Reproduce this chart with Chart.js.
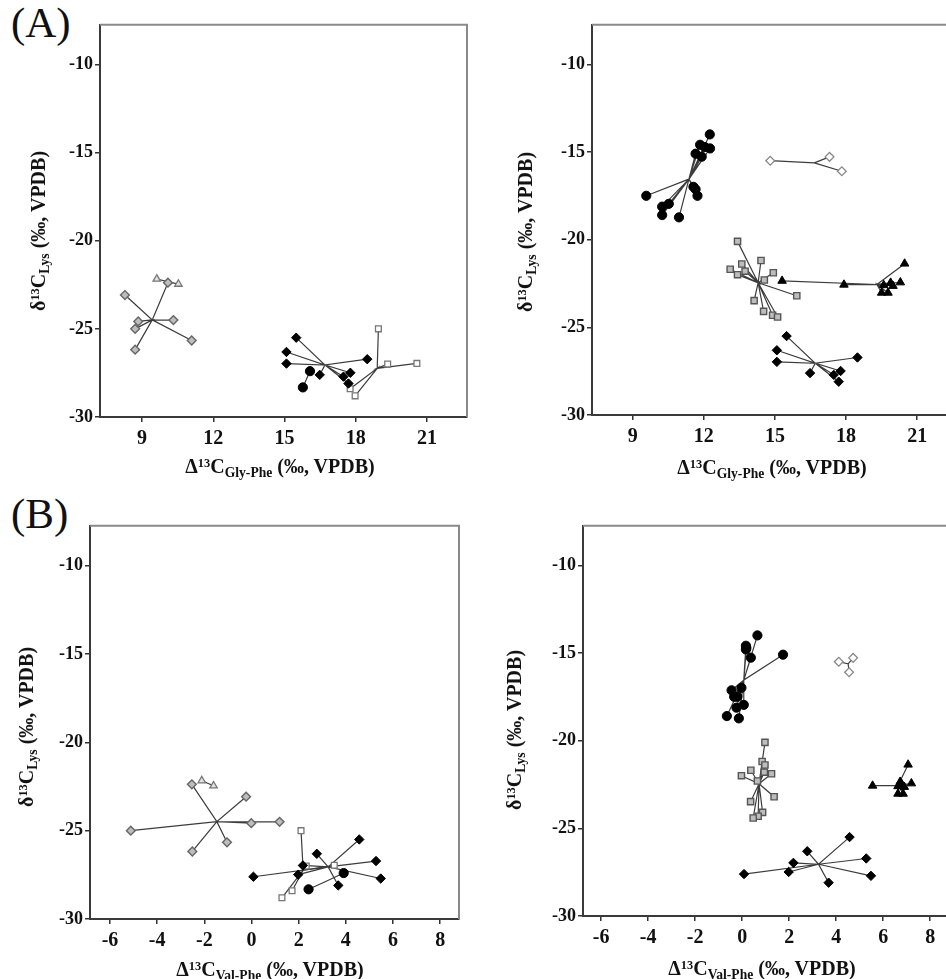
<!DOCTYPE html>
<html><head><meta charset="utf-8">
<script src="https://cdn.jsdelivr.net/npm/chart.js@4.4.0/dist/chart.umd.min.js"></script>
<style>
html,body{margin:0;padding:0;background:#fff;width:946px;height:979px;overflow:hidden;position:relative;}
canvas.cv{position:absolute;}
.lbl{position:absolute;font-family:"Liberation Serif","Times New Roman",serif;color:#111;white-space:nowrap;}
.ttl{font-weight:bold;font-size:20px;line-height:1;transform:translate(-50%,-50%);}
.ttl.rot{transform:translate(-50%,-50%) rotate(-90deg);}
.ttl sup{font-size:0.62em;vertical-align:0.5em;line-height:0;}
.ttl sub{font-size:0.68em;vertical-align:-0.3em;line-height:0;}
.panel{font-size:43px;line-height:1;}
</style></head><body>
<div class="lbl panel" style="left:11px;top:1px;">(A)</div>
<div class="lbl panel" style="left:11px;top:492px;">(B)</div>

<canvas id="cA1" class="cv"></canvas>
<canvas id="cA2" class="cv"></canvas>
<canvas id="cB1" class="cv"></canvas>
<canvas id="cB2" class="cv"></canvas>

<div class="lbl ttl" style="left:280px;top:466px;">Δ<sup>13</sup>C<sub>Gly-Phe</sub> (‰, VPDB)</div>
<div class="lbl ttl rot" style="left:38px;top:231px;">δ<sup>13</sup>C<sub>Lys</sub> (‰, VPDB)</div>
<div class="lbl ttl" style="left:772px;top:467px;">Δ<sup>13</sup>C<sub>Gly-Phe</sub> (‰, VPDB)</div>
<div class="lbl ttl rot" style="left:525px;top:232px;">δ<sup>13</sup>C<sub>Lys</sub> (‰, VPDB)</div>
<div class="lbl ttl" style="left:270px;top:969px;">Δ<sup>13</sup>C<sub>Val-Phe</sub> (‰, VPDB)</div>
<div class="lbl ttl rot" style="left:26px;top:727px;">δ<sup>13</sup>C<sub>Lys</sub> (‰, VPDB)</div>
<div class="lbl ttl" style="left:762px;top:968px;">Δ<sup>13</sup>C<sub>Val-Phe</sub> (‰, VPDB)</div>
<div class="lbl ttl rot" style="left:514px;top:730px;">δ<sup>13</sup>C<sub>Lys</sub> (‰, VPDB)</div>

<script>
// ---------- tick labels ----------
const lysTicks = [-30, -25, -20, -15, -10];
const glyTicks = [9, 12, 15, 18, 21];
const valTicks = [-6, -4, -2, 0, 2, 4, 6, 8];

// ---------- left-hand panels ----------
// gray diamonds
const grayDiamondLys = [-22.38, -23.08, -24.50, -24.58, -25.00, -25.66, -26.18];
const grayDiamondGly = [10.09, 8.28, 10.32, 8.84, 8.71, 11.09, 8.71];
const grayDiamondVal = [-2.53, -0.23, 1.19, -0.01, -5.12, -1.04, -2.51];
const grayDiamondCentre = [-24.49, 9.43, -1.47]; // Lys, Gly-Phe, Val-Phe

// gray open triangles
const grayTriangleLys = [-22.17, -22.46];
const grayTriangleGly = [9.62, 10.53];
const grayTriangleVal = [-2.11, -1.61];
const grayTriangleCentre = [-22.32, 10.08, -1.86];

// black circles (left)
const blackCircleLLys = [-27.40, -28.32];
const blackCircleLGly = [16.07, 15.77];
const blackCircleLVal = [3.91, 2.42];
const blackCircleLCentre = [-27.86, 15.92, 3.17];

// open squares
const openSquareLys = [-25.00, -27.00, -26.96, -28.40, -28.80];
const openSquareGly = [18.95, 19.34, 20.57, 17.76, 17.97];
const openSquareVal = [2.10, 2.32, 3.51, 1.72, 1.29];
const openSquareCentre = [-27.24, 18.90, 2.19];

// black diamonds (shown in all four panels)
const blackDiamondLys = [-25.50, -26.31, -26.97, -26.72, -27.49, -27.61, -27.71, -28.10];
const blackDiamondGly = [15.49, 15.08, 15.08, 18.48, 17.77, 16.48, 17.48, 17.69];
const blackDiamondVal = [4.57, 2.77, 2.18, 5.28, 1.98, 0.08, 5.48, 3.68];
const blackDiamondCentre = [-27.05, 16.70, 3.25];

// ---------- right-hand panels ----------
// black circles (right)
const blackCircleRLys = [-14.00, -14.59, -14.72, -14.80, -15.10, -15.27, -16.99, -17.13, -17.50, -17.50, -17.96, -18.12, -18.60, -18.73];
const blackCircleRGly = [12.25, 11.84, 12.04, 12.26, 11.65, 11.91, 11.56, 11.65, 11.73, 9.57, 10.52, 10.24, 10.24, 10.95];
const blackCircleRVal = [0.65, 0.16, 0.18, 0.16, 1.74, 0.37, -0.03, -0.45, -0.34, -0.20, 0.07, -0.24, -0.65, -0.14];
const blackCircleRCentre = [-16.55, 11.37, 0.07];

// open diamonds
const openDiamondLys = [-15.50, -15.28, -16.10];
const openDiamondGly = [14.80, 17.30, 17.82];
const openDiamondVal = [4.11, 4.72, 4.55];
const openDiamondCentre = [-15.62, 16.66, 4.51];

// gray squares
const graySquareLys = [-20.10, -21.19, -21.39, -21.69, -21.80, -21.89, -22.00, -22.30, -23.20, -23.48, -24.09, -24.31, -24.41];
const graySquareGly = [13.42, 14.41, 13.60, 13.11, 13.74, 14.93, 13.42, 14.55, 15.92, 14.12, 14.52, 14.90, 15.11];
const graySquareVal = [0.97, 0.85, 0.97, 0.37, 0.94, 1.25, -0.03, 0.65, 1.36, 0.36, 0.87, 0.68, 0.47];
const graySquareCentre = [-22.46, 14.29, 0.72];

// black triangles
const blackTriangleLys = [-22.35, -22.57, -21.37, -22.44, -22.46, -22.60, -22.64, -23.03, -23.03];
const blackTriangleGly = [15.30, 17.91, 20.47, 20.29, 19.88, 19.59, 19.98, 19.50, 19.77];
const blackTriangleVal = [6.72, 5.55, 7.06, 7.20, 6.78, 6.63, 6.90, 6.63, 6.85];
const blackTriangleCentre = [-22.56, 19.30, 6.63];

// ---------- styles ----------
const STY = {
  grayDiamond:  {ps:'rectRot',  r:4.4, bg:'#bdbdbd', bd:'#666', bw:1.4},
  grayTriangle: {ps:'triangle', r:4.3, bg:'#e2e2e2', bd:'#777', bw:1.3},
  blackCircleL: {ps:'circle',   r:4.6, bg:'#000',    bd:'#000', bw:1},
  openSquare:   {ps:'rect',     r:4.1, bg:'#fff',    bd:'#777', bw:1.3},
  blackDiamond: {ps:'rectRot',  r:4.7, bg:'#000',    bd:'#000', bw:1},
  blackCircleR: {ps:'circle',   r:4.6, bg:'#000',    bd:'#000', bw:1},
  openDiamond:  {ps:'rectRot',  r:4.4, bg:'#fff',    bd:'#888', bw:1.3},
  graySquare:   {ps:'rect',     r:4.4, bg:'#bdbdbd', bd:'#555', bw:1.4},
  blackTriangle:{ps:'triangle', r:4.9, bg:'#000',    bd:'#000', bw:1}
};

const GROUPS = {
  grayDiamond:  [grayDiamondLys,  grayDiamondGly,  grayDiamondVal,  grayDiamondCentre],
  grayTriangle: [grayTriangleLys, grayTriangleGly, grayTriangleVal, grayTriangleCentre],
  blackCircleL: [blackCircleLLys, blackCircleLGly, blackCircleLVal, blackCircleLCentre],
  openSquare:   [openSquareLys,   openSquareGly,   openSquareVal,   openSquareCentre],
  blackDiamond: [blackDiamondLys, blackDiamondGly, blackDiamondVal, blackDiamondCentre],
  blackCircleR: [blackCircleRLys, blackCircleRGly, blackCircleRVal, blackCircleRCentre],
  openDiamond:  [openDiamondLys,  openDiamondGly,  openDiamondVal,  openDiamondCentre],
  graySquare:   [graySquareLys,   graySquareGly,   graySquareVal,   graySquareCentre],
  blackTriangle:[blackTriangleLys,blackTriangleGly,blackTriangleVal,blackTriangleCentre]
};

function buildDatasets(names, useVal) {
  const spokes = [], marks = [];
  names.forEach(n => {
    const [lys, gly, val, c] = GROUPS[n];
    const xs = useVal ? val : gly;
    const cx = useVal ? c[2] : c[1], cy = c[0];
    const s = STY[n];
    const sp = [];
    xs.forEach((x, i) => { sp.push({x: x, y: lys[i]}); sp.push({x: cx, y: cy}); });
    spokes.push({type:'scatter', data: sp, showLine: true, pointRadius: 0, pointHoverRadius: 0,
      borderColor: '#3c3c3c', borderWidth: 1.2, fill: false, tension: 0, order: 2});
    marks.push({type:'scatter', data: xs.map((x, i) => ({x: x, y: lys[i]})),
      pointStyle: s.ps, pointRadius: s.r, pointHoverRadius: s.r,
      backgroundColor: s.bg, borderColor: s.bd, borderWidth: s.bw, order: 1});
  });
  return spokes.concat(marks);
}

const FONT = '"Liberation Serif", "Times New Roman", serif';
const YW = 80, XH = 50, PT = 10, PR = 10;

const framePlugin = {
  id: 'frame',
  beforeDatasetsDraw(chart) {
    const a = chart.chartArea, ctx = chart.ctx;
    ctx.save();
    ctx.strokeStyle = '#8a8a8a';
    ctx.lineWidth = 2;
    ctx.beginPath();
    ctx.moveTo(a.left, a.top); ctx.lineTo(a.right, a.top); ctx.lineTo(a.right, a.bottom);
    ctx.stroke();
    ctx.restore();
  }
};

function makePanel(id, frame, xMin, xMax, xTicks, names, useVal) {
  const cv = document.getElementById(id);
  const w = Math.round(frame.R - frame.L + YW + PR);
  const h = Math.round(frame.B - frame.T + PT + XH);
  cv.width = w; cv.height = h;
  cv.style.width = w + 'px'; cv.style.height = h + 'px';
  cv.style.left = (frame.L - YW) + 'px';
  cv.style.top = (frame.T - PT) + 'px';
  new Chart(cv, {
    type: 'scatter',
    data: { datasets: buildDatasets(names, useVal) },
    plugins: [framePlugin],
    options: {
      responsive: false, animation: false, devicePixelRatio: 1,
      layout: { padding: { left: 0, top: PT, right: PR, bottom: 0 } },
      plugins: { legend: { display: false }, tooltip: { enabled: false } },
      scales: {
        x: {
          type: 'linear', min: xMin, max: xMax,
          afterBuildTicks: s => { s.ticks = xTicks.map(v => ({value: v})); },
          afterFit: s => { s.height = XH; },
          grid: { drawOnChartArea: false, drawTicks: true, tickLength: 5, color: '#333', lineWidth: 1.5 },
          border: { display: true, color: '#3a3a3a', width: 2 },
          ticks: { font: { family: FONT, size: 20, weight: 'bold' }, color: '#111', padding: 5,
                   maxRotation: 0, autoSkip: false, callback: v => String(v) }
        },
        y: {
          type: 'linear', min: -30, max: -7.75,
          afterBuildTicks: s => { s.ticks = lysTicks.map(v => ({value: v})); },
          afterFit: s => { s.width = YW; },
          grid: { drawOnChartArea: false, drawTicks: true, tickLength: 5, color: '#333', lineWidth: 1.5 },
          border: { display: true, color: '#3a3a3a', width: 2 },
          ticks: { font: { family: FONT, size: 18, weight: 'bold' }, color: '#111', padding: 2,
                   autoSkip: false, callback: v => String(v) }
        }
      }
    }
  });
}

const leftGroups  = ['grayDiamond', 'grayTriangle', 'blackDiamond', 'blackCircleL', 'openSquare'];
const rightGroups = ['blackCircleR', 'openDiamond', 'graySquare', 'blackTriangle', 'blackDiamond'];

makePanel('cA1', {L:100, T:22,  R:467, B:417}, 7.23, 22.68, glyTicks, leftGroups,  false);
makePanel('cA2', {L:592, T:22,  R:957, B:415}, 7.28, 22.68, glyTicks, rightGroups, false);
makePanel('cB1', {L:90,  T:523, R:459, B:919}, -6.85, 8.8,  valTicks, leftGroups,  true);
makePanel('cB2', {L:583, T:523, R:949, B:916}, -6.77, 8.8,  valTicks, rightGroups, true);
</script>
</body></html>
